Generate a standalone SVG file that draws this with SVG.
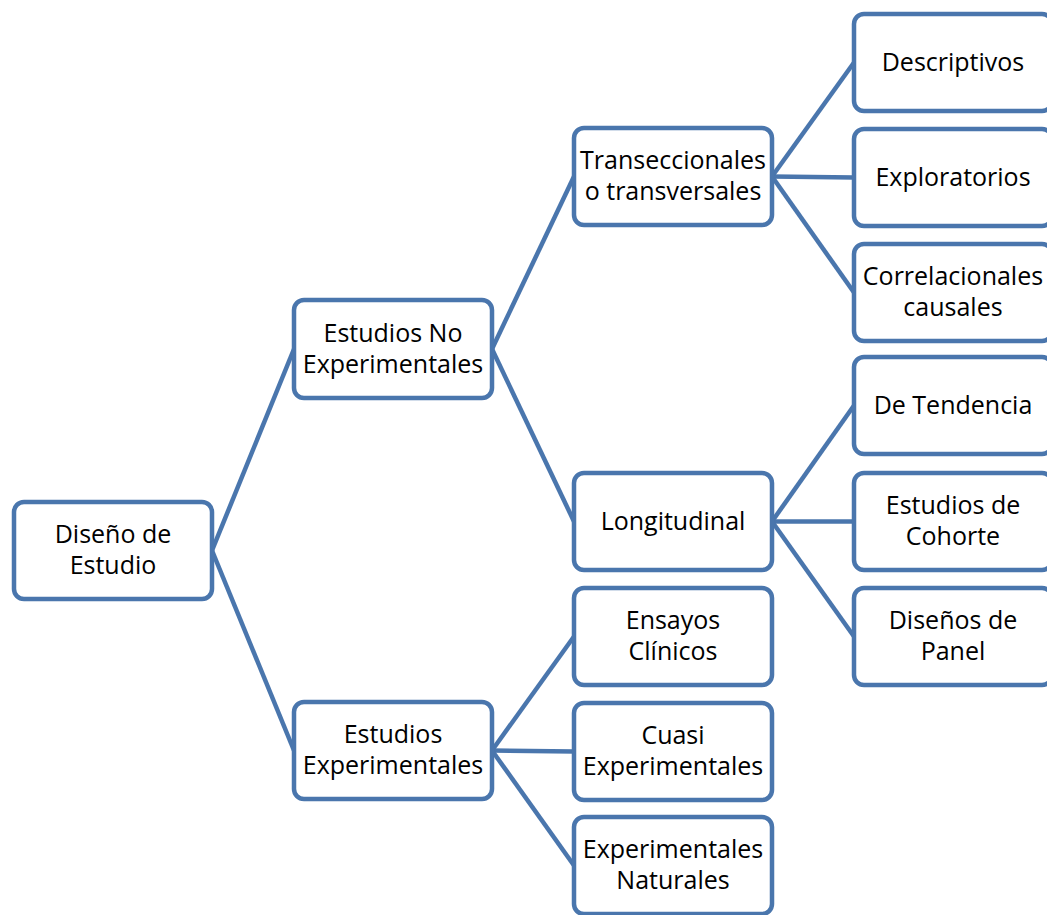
<svg xmlns="http://www.w3.org/2000/svg" width="1047" height="915" viewBox="0 0 1047 915">
<style>
.box{fill:#fff;stroke:#4a76ad;stroke-width:4.5}
.lbl{font-family:"Open Sans",Lato,"Liberation Sans",sans-serif;font-size:25px;fill:#000;text-anchor:middle}
.conn line{stroke:#4a76ad;stroke-width:4.5}
</style>
<rect width="1047" height="915" fill="#fff"/>
<g id="connectors" class="conn">
<line x1="212" y1="550.5" x2="294" y2="349"/>
<line x1="212" y1="550.5" x2="294" y2="750.5"/>
<line x1="492" y1="349" x2="574" y2="176.5"/>
<line x1="492" y1="349" x2="574" y2="521.5"/>
<line x1="492" y1="750.5" x2="574" y2="636.5"/>
<line x1="492" y1="750.5" x2="574" y2="751.5"/>
<line x1="492" y1="750.5" x2="574" y2="865.5"/>
<line x1="772" y1="176.5" x2="854" y2="62.5"/>
<line x1="772" y1="176.5" x2="854" y2="177.5"/>
<line x1="772" y1="176.5" x2="854" y2="292.5"/>
<line x1="772" y1="521.5" x2="854" y2="405.5"/>
<line x1="772" y1="521.5" x2="854" y2="521.5"/>
<line x1="772" y1="521.5" x2="854" y2="636.5"/>
</g>
<g id="n-root"><rect class="box" x="14" y="502" width="198" height="97" rx="10"/><text class="lbl" x="113" y="543">Diseño de</text><text class="lbl" x="113" y="574">Estudio</text></g>
<g id="n-noexp"><rect class="box" x="294" y="300" width="198" height="98" rx="10"/><text class="lbl" x="393" y="342">Estudios No</text><text class="lbl" x="393" y="373">Experimentales</text></g>
<g id="n-exp"><rect class="box" x="294" y="702" width="198" height="97" rx="10"/><text class="lbl" x="393" y="743">Estudios</text><text class="lbl" x="393" y="774">Experimentales</text></g>
<g id="n-trans"><rect class="box" x="574" y="128" width="198" height="97" rx="10"/><text class="lbl" x="673" y="169">Transeccionales</text><text class="lbl" x="673" y="200">o transversales</text></g>
<g id="n-long"><rect class="box" x="574" y="473" width="198" height="97" rx="10"/><text class="lbl" x="673" y="530">Longitudinal</text></g>
<g id="n-ensayos"><rect class="box" x="574" y="588" width="198" height="97" rx="10"/><text class="lbl" x="673" y="629">Ensayos</text><text class="lbl" x="673" y="660">Clínicos</text></g>
<g id="n-cuasi"><rect class="box" x="574" y="703" width="198" height="97" rx="10"/><text class="lbl" x="673" y="744">Cuasi</text><text class="lbl" x="673" y="775">Experimentales</text></g>
<g id="n-naturales"><rect class="box" x="574" y="817" width="198" height="97" rx="10"/><text class="lbl" x="673" y="858">Experimentales</text><text class="lbl" x="673" y="889">Naturales</text></g>
<g id="n-descriptivos"><rect class="box" x="854" y="14" width="198" height="97" rx="10"/><text class="lbl" x="953" y="71">Descriptivos</text></g>
<g id="n-exploratorios"><rect class="box" x="854" y="129" width="198" height="97" rx="10"/><text class="lbl" x="953" y="186">Exploratorios</text></g>
<g id="n-correl"><rect class="box" x="854" y="244" width="198" height="97" rx="10"/><text class="lbl" x="953" y="285">Correlacionales</text><text class="lbl" x="953" y="316">causales</text></g>
<g id="n-tendencia"><rect class="box" x="854" y="357" width="198" height="97" rx="10"/><text class="lbl" x="953" y="414">De Tendencia</text></g>
<g id="n-cohorte"><rect class="box" x="854" y="473" width="198" height="97" rx="10"/><text class="lbl" x="953" y="514">Estudios de</text><text class="lbl" x="953" y="545">Cohorte</text></g>
<g id="n-panel"><rect class="box" x="854" y="588" width="198" height="97" rx="10"/><text class="lbl" x="953" y="629">Diseños de</text><text class="lbl" x="953" y="660">Panel</text></g>
</svg>
